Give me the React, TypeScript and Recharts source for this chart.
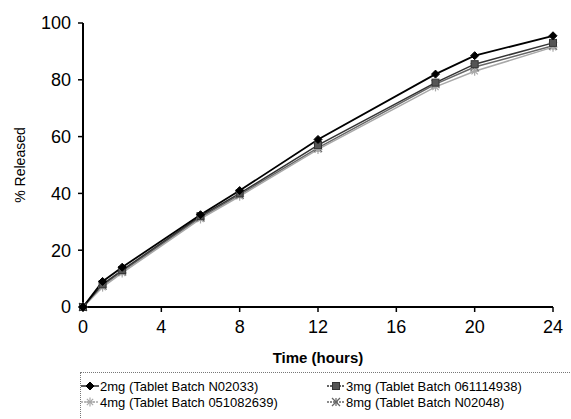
import React from "react";
import { LineChart, Line, XAxis, YAxis, Legend, Label } from "recharts";

const times = [0, 1, 2, 6, 8, 12, 18, 20, 24];
const s2mg = [0, 9, 14, 32.5, 41, 59, 82, 88.5, 95.5];
const s3mg = [0, 8, 13, 32, 40, 57, 79, 85.5, 93];
const s4mg = [0, 7, 12, 31, 39, 55.5, 77.5, 83, 91.5];
const s8mg = [0, 7.5, 12.5, 31.5, 39.5, 56, 78.5, 84.5, 92];
const xTicks = [0, 4, 8, 12, 16, 20, 24];
const yTicks = [0, 20, 40, 60, 80, 100];

const seriesNames = [
  "2mg (Tablet Batch N02033)",
  "3mg (Tablet Batch 061114938)",
  "4mg (Tablet Batch 051082639)",
  "8mg (Tablet Batch N02048)",
];

const data = times.map((t, i) => ({
  t,
  a: s2mg[i],
  b: s3mg[i],
  c: s4mg[i],
  d: s8mg[i],
}));

const FONT = "'Liberation Sans', Arial, sans-serif";

const Diamond = (props: any) => {
  const { cx, cy, stroke } = props;
  if (cx == null || cy == null) return null;
  const r = 4;
  return <path d={`M${cx},${cy - r}L${cx + r},${cy}L${cx},${cy + r}L${cx - r},${cy}Z`} fill={stroke} stroke={stroke} />;
};
const Square = (props: any) => {
  const { cx, cy, stroke } = props;
  if (cx == null || cy == null) return null;
  return <rect x={cx - 3.5} y={cy - 3.5} width={7} height={7} fill="#555" stroke={stroke} />;
};
const Aster = (props: any) => {
  const { cx, cy, stroke } = props;
  if (cx == null || cy == null) return null;
  const r = 4.5;
  return (
    <g stroke={stroke} strokeWidth={1.2}>
      <line x1={cx - r} y1={cy} x2={cx + r} y2={cy} />
      <line x1={cx} y1={cy - r} x2={cx} y2={cy + r} />
      <line x1={cx - r * 0.7} y1={cy - r * 0.7} x2={cx + r * 0.7} y2={cy + r * 0.7} />
      <line x1={cx - r * 0.7} y1={cy + r * 0.7} x2={cx + r * 0.7} y2={cy - r * 0.7} />
    </g>
  );
};
const XStar = (props: any) => {
  const { cx, cy, stroke } = props;
  if (cx == null || cy == null) return null;
  const r = 4;
  return (
    <g stroke={stroke} strokeWidth={1.2}>
      <line x1={cx - r} y1={cy - r} x2={cx + r} y2={cy + r} />
      <line x1={cx - r} y1={cy + r} x2={cx + r} y2={cy - r} />
      <line x1={cx} y1={cy - r} x2={cx} y2={cy + r} />
    </g>
  );
};

const colors = ["#000000", "#333333", "#a8a8a8", "#666666"];
const markers = [Diamond, Square, Aster, XStar];

const LegendSwatch = ({ idx }: { idx: number }) => {
  const M = markers[idx];
  return (
    <svg width={18} height={12} style={{ verticalAlign: "middle" }}>
      <line x1={0} y1={6} x2={18} y2={6} stroke={colors[idx]} strokeWidth={1.3} strokeDasharray={idx === 0 ? undefined : "2 1"} />
      <M cx={9} cy={6} stroke={colors[idx]} />
    </svg>
  );
};

const CustomLegend = () => (
  <div
    style={{
      position: "absolute",
      left: 0,
      top: 0,
      border: "1px dotted #777",
      width: 500,
      height: 60,
      boxSizing: "border-box",
      fontFamily: FONT,
      fontSize: 13,
      color: "#000",
      padding: "5px 0 0 0",
      textAlign: "left",
    }}
  >
    {[0, 2].map((row) => (
      <div key={row} style={{ display: "flex", height: 16, alignItems: "center" }}>
        {[row, row + 1].map((idx) => (
          <div key={idx} style={{ width: idx % 2 === 0 ? 246 : 250, display: "flex", alignItems: "center", whiteSpace: "nowrap" }}>
            <LegendSwatch idx={idx} />
            <span style={{ marginLeft: 1 }}>{seriesNames[idx]}</span>
          </div>
        ))}
      </div>
    ))}
  </div>
);

export default function App() {
  return (
    <div style={{ position: "absolute", left: 0, top: 0, width: 571, height: 419, background: "#fff", overflow: "hidden" }}>
      <LineChart
        width={571}
        height={419}
        data={data}
        margin={{ top: 23, right: 18, bottom: 54, left: 0 }}
      >
        <XAxis
          dataKey="t"
          type="number"
          domain={[0, 24]}
          ticks={xTicks}
          interval={0}
          stroke="#000"
          strokeWidth={2}
          tickSize={5}
          tickMargin={8}
          height={58}
          tick={{ fontSize: 18, fill: "#000", fontFamily: FONT }}
          tickLine={{ stroke: "#000", strokeWidth: 1.5 }}
        >
          <Label
            value="Time (hours)"
            position="insideBottom"
            offset={2}
            style={{ fontSize: 15, fontWeight: "bold", fill: "#000", fontFamily: FONT }}
          />
        </XAxis>
        <YAxis
          type="number"
          domain={[0, 100]}
          ticks={yTicks}
          interval={0}
          width={83}
          stroke="#000"
          strokeWidth={2}
          tickSize={5}
          tickMargin={7}
          tick={{ fontSize: 18, fill: "#000", fontFamily: FONT }}
          tickLine={{ stroke: "#000", strokeWidth: 1.5 }}
        >
          <Label
            value="% Released"
            angle={-90}
            position="insideLeft"
            offset={20}
            style={{ fontSize: 14, fill: "#000", fontFamily: FONT, textAnchor: "middle" }}
          />
        </YAxis>
        <Legend
          verticalAlign="bottom"
          content={<CustomLegend />}
          wrapperStyle={{ position: "absolute", left: 80, top: 372, width: 500, height: 0, overflow: "visible" }}
        />
        <Line dataKey="d" name={seriesNames[3]} stroke={colors[3]} strokeWidth={1.5} dot={<XStar />} isAnimationActive={false} />
        <Line dataKey="c" name={seriesNames[2]} stroke={colors[2]} strokeWidth={1.5} dot={<Aster />} isAnimationActive={false} />
        <Line dataKey="b" name={seriesNames[1]} stroke={colors[1]} strokeWidth={1.5} dot={<Square />} isAnimationActive={false} />
        <Line dataKey="a" name={seriesNames[0]} stroke={colors[0]} strokeWidth={1.8} dot={<Diamond />} isAnimationActive={false} />
      </LineChart>
    </div>
  );
}
